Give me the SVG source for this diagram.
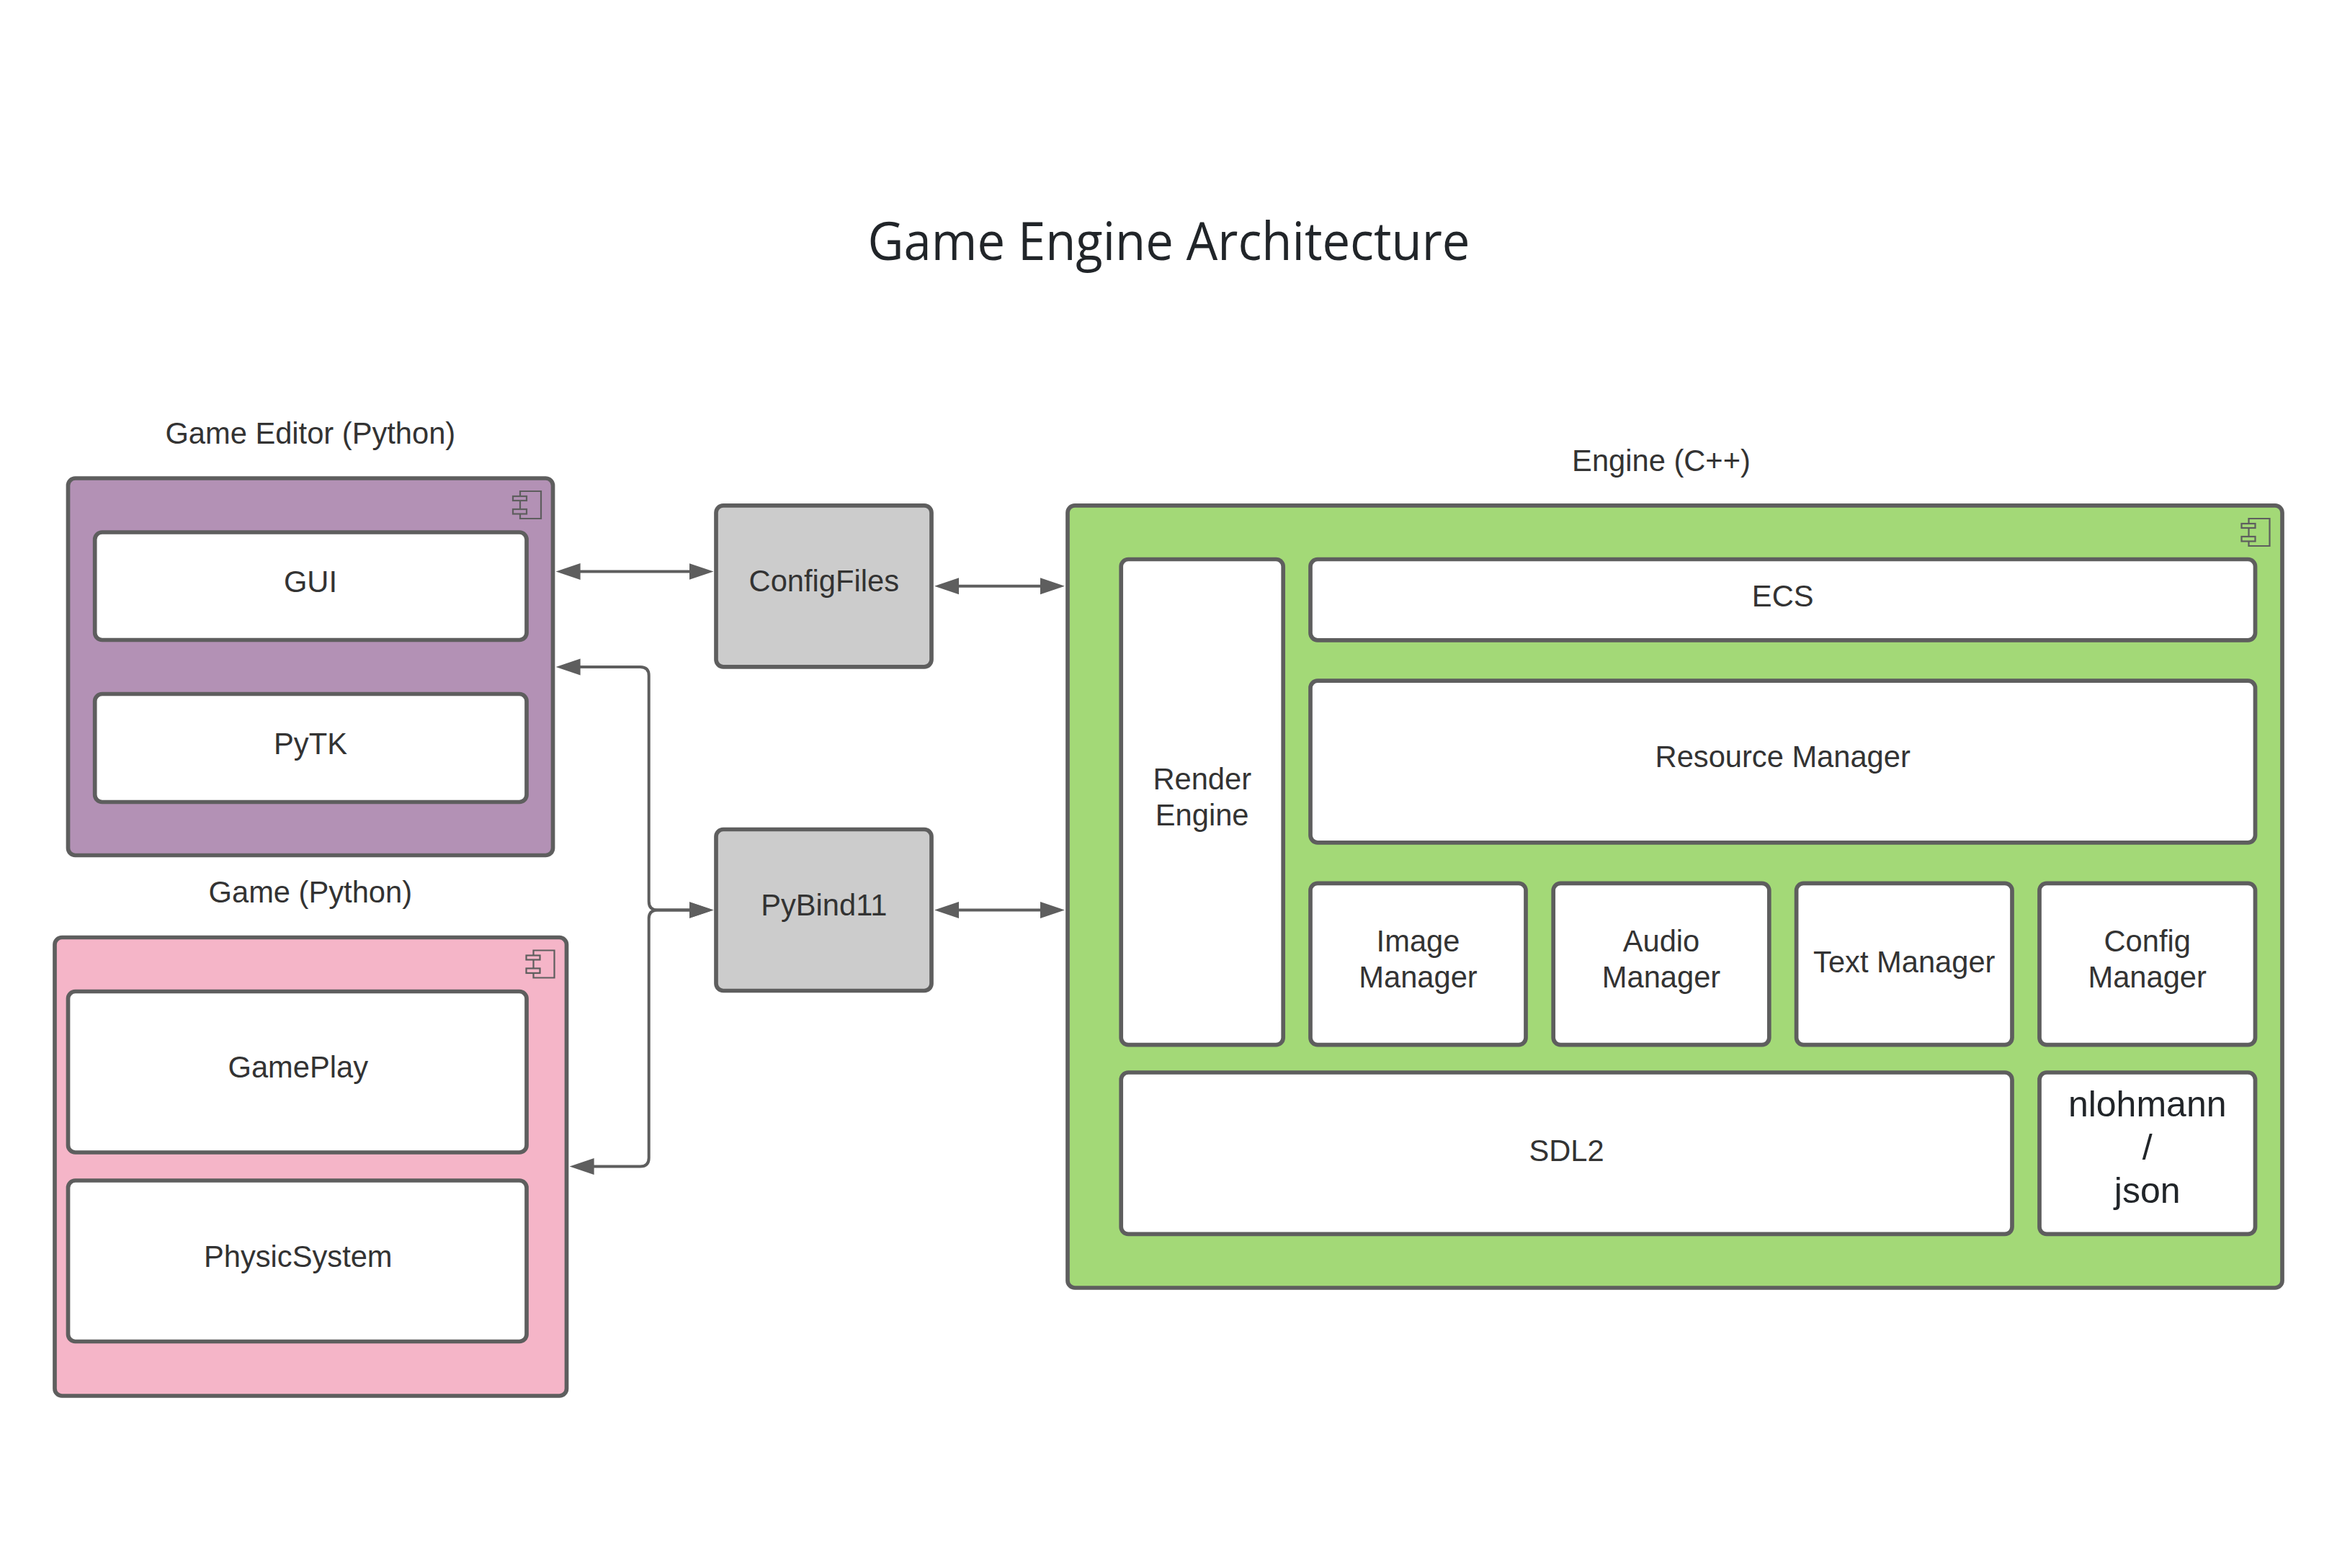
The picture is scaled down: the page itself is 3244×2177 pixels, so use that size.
<svg xmlns="http://www.w3.org/2000/svg" width="3244" height="2177" viewBox="0 0 3244 2177">
<defs>
<style>
.b{stroke:#5e5e5e;stroke-width:5.7}
.w{fill:#fff}
.g{fill:#ccc}
.ic{fill:none;stroke:#5e5e5e;stroke-width:2.2}
.c{fill:none;stroke:#5e5e5e;stroke-width:4;marker-start:url(#ah);marker-end:url(#ah)}
text{font-family:"Liberation Sans",Arial,sans-serif;font-size:41.67px;fill:#333;text-anchor:middle}
.t{font-family:"Open Sans","Noto Sans",sans-serif;font-size:73px;fill:#212529}
.n{font-size:50px;fill:#212529}
</style>
<marker id="ah" markerUnits="userSpaceOnUse" markerWidth="36" markerHeight="26" refX="4" refY="12" orient="auto-start-reverse"><path d="M0,0.5 L34,12 L0,23.5 z" fill="#5e5e5e"/></marker>
<g id="icon"><path class="ic" d="M0,7 V0 H29 V38 H0 V31 M0,13 V25"/><rect class="ic" x="-10" y="7" width="19" height="6"/><rect class="ic" x="-10" y="25" width="19" height="6.5"/></g>
</defs>
<rect width="3244" height="2177" fill="#fff"/>
<text class="t" x="1622.5" y="360.5" textLength="836" lengthAdjust="spacingAndGlyphs">Game Engine Architecture</text>
<g id="editor">
<text x="430.8" y="616">Game Editor (Python)</text>
<rect class="b" x="94.5" y="664" width="673" height="523.5" rx="10" fill="#b391b5"/>
<use href="#icon" x="722" y="682"/>
<g id="gui"><rect class="b w" x="131.7" y="739" width="599.3" height="149.5" rx="10"/><text x="431" y="821.5">GUI</text></g>
<g id="pytk"><rect class="b w" x="131.7" y="963.5" width="599.3" height="150" rx="10"/><text x="431" y="1046.5">PyTK</text></g>
</g>
<g id="game">
<text x="430.8" y="1253">Game (Python)</text>
<rect class="b" x="76" y="1301.5" width="710.5" height="636.5" rx="10" fill="#f5b5c8"/>
<use href="#icon" x="740.5" y="1319.5"/>
<g id="gameplay"><rect class="b w" x="94.5" y="1376.5" width="636.5" height="223.5" rx="10"/><text x="413.8" y="1495.5">GamePlay</text></g>
<g id="physics"><rect class="b w" x="94.5" y="1639" width="636.5" height="223.5" rx="10"/><text x="413.8" y="1758.5">PhysicSystem</text></g>
</g>
<g id="configfiles"><rect class="b g" x="994" y="701.8" width="299" height="224" rx="10"/><text x="1143.8" y="820.5">ConfigFiles</text></g>
<g id="pybind"><rect class="b g" x="994" y="1151.5" width="299" height="224" rx="10"/><text x="1143.8" y="1271">PyBind11</text></g>
<g id="engine">
<text x="2306" y="654">Engine (C++)</text>
<rect class="b" x="1482" y="701.8" width="1686" height="1086.2" rx="10" fill="#a3d977"/>
<use href="#icon" x="3121.5" y="720"/>
<g id="render"><rect class="b w" x="1556.2" y="776.5" width="225" height="674.2" rx="10"/><text x="1668.7" y="1095.5">Render</text><text x="1668.7" y="1145.5">Engine</text></g>
<g id="ecs"><rect class="b w" x="1819" y="776.5" width="1311.5" height="112.3" rx="10"/><text x="2474.7" y="842.3">ECS</text></g>
<g id="resource"><rect class="b w" x="1819" y="945.2" width="1311.5" height="224.6" rx="10"/><text x="2474.7" y="1065">Resource Manager</text></g>
<g id="image"><rect class="b w" x="1819" y="1226.3" width="299" height="224.4" rx="10"/><text x="1968.5" y="1321">Image</text><text x="1968.5" y="1371">Manager</text></g>
<g id="audio"><rect class="b w" x="2156.2" y="1226.3" width="299.6" height="224.4" rx="10"/><text x="2306" y="1321">Audio</text><text x="2306" y="1371">Manager</text></g>
<g id="text"><rect class="b w" x="2493.6" y="1226.3" width="299.4" height="224.4" rx="10"/><text x="2643.3" y="1349.5">Text Manager</text></g>
<g id="config"><rect class="b w" x="2831" y="1226.3" width="299.5" height="224.4" rx="10"/><text x="2980.7" y="1321">Config</text><text x="2980.7" y="1371">Manager</text></g>
<g id="sdl"><rect class="b w" x="1556.2" y="1489" width="1236.8" height="224.4" rx="10"/><text x="2174.5" y="1612.3">SDL2</text></g>
<g id="json"><rect class="b w" x="2831" y="1489" width="299.5" height="224.4" rx="10"/><text class="n" x="2980.7" y="1550">nlohmann</text><text class="n" x="2980.7" y="1610">/</text><text class="n" x="2980.7" y="1670">json</text></g>
</g>
<g id="connectors">
<path class="c" d="M801.6,793.5 H960.5"/>
<path class="c" d="M1327,813.7 H1448"/>
<path class="c" d="M1327,1263.5 H1448"/>
<path class="c" d="M801.6,926 H888.7 Q900.7,926 900.7,938 V1251.5 Q900.7,1263.5 912.7,1263.5 H960.5"/>
<path class="c" d="M820.6,1619.5 H888.7 Q900.7,1619.5 900.7,1607.5 V1275.5 Q900.7,1263.5 912.7,1263.5 H960.5"/>
</g>
</svg>
